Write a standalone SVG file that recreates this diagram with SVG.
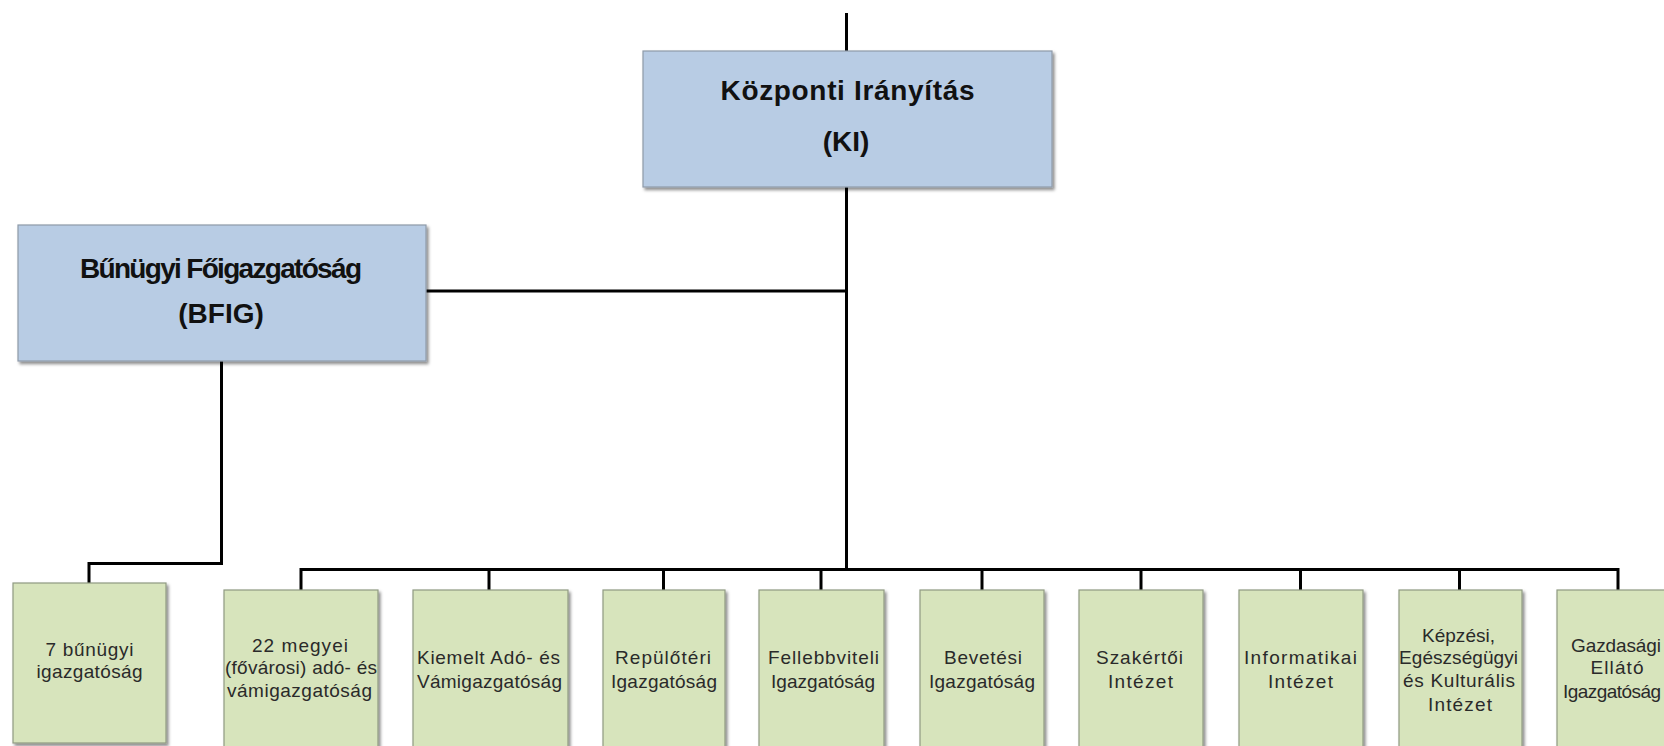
<svg xmlns="http://www.w3.org/2000/svg" width="1664" height="746" viewBox="0 0 1664 746">
  <style>
    .lead { fill: #b8cce4; stroke: #8e9aa8; stroke-width: 1.2; filter: url(#shadow); }
    .unit { fill: #d7e4bc; stroke: #8f9a82; stroke-width: 1.2; filter: url(#shadow); }
    .head { font-family: "Liberation Sans", Arial, sans-serif; font-weight: bold; font-size: 28px; fill: #111; text-anchor: middle; }
    .lbl { font-family: "Liberation Sans", Arial, sans-serif; font-size: 19px; fill: #2a2a2a; text-anchor: middle; }
    .wire { fill: none; stroke: #000; stroke-width: 3; stroke-linejoin: miter; }
  </style>
  <defs>
    <filter id="shadow" x="-10%" y="-10%" width="130%" height="130%">
      <feDropShadow dx="2" dy="2.5" stdDeviation="1.5" flood-color="#000" flood-opacity="0.45"/>
    </filter>
  </defs>
  <rect width="1664" height="746" fill="#fff"/>

  <!-- connectors -->
  <g id="connectors">
    <line class="wire" x1="846.5" y1="13" x2="846.5" y2="51" stroke-width="2.5"/>
    <line class="wire" x1="846.5" y1="187" x2="846.5" y2="571" stroke-width="4"/>
    <line class="wire" x1="426" y1="291" x2="846.5" y2="291"/>
    <polyline class="wire" points="221.5,361 221.5,563.5 89,563.5 89,583"/>
    <polyline class="wire" points="301,590 301,569.5 1618,569.5 1618,590"/>
    <line class="wire" x1="489" y1="569.5" x2="489" y2="590"/>
    <line class="wire" x1="663.5" y1="569.5" x2="663.5" y2="590"/>
    <line class="wire" x1="821" y1="569.5" x2="821" y2="590"/>
    <line class="wire" x1="982" y1="569.5" x2="982" y2="590"/>
    <line class="wire" x1="1141" y1="569.5" x2="1141" y2="590"/>
    <line class="wire" x1="1300.5" y1="569.5" x2="1300.5" y2="590"/>
    <line class="wire" x1="1459.5" y1="569.5" x2="1459.5" y2="590"/>
  </g>

  <g id="ki">
    <rect class="lead" x="643" y="51" width="409" height="136"/>
    <text class="head" x="847.5" y="100" textLength="254">Központi Irányítás</text>
    <text class="head" x="846" y="151">(KI)</text>
  </g>

  <g id="bfig">
    <rect class="lead" x="18" y="225" width="408" height="136"/>
    <text class="head" x="221" y="278" textLength="282">Bűnügyi Főigazgatóság</text>
    <text class="head" x="221" y="323">(BFIG)</text>
  </g>

  <g id="bunugyi">
    <rect class="unit" x="13" y="583" width="153" height="160"/>
    <text class="lbl" x="89.5" y="656" textLength="88">7 bűnügyi</text>
    <text class="lbl" x="89.5" y="678" textLength="106">igazgatóság</text>
  </g>

  <g id="megyei">
    <rect class="unit" x="224" y="590" width="154" height="170"/>
    <text class="lbl" x="300" y="652" textLength="96">22 megyei</text>
    <text class="lbl" x="301" y="674" textLength="152">(fővárosi) adó- és</text>
    <text class="lbl" x="299.5" y="697" textLength="145">vámigazgatóság</text>
  </g>

  <g id="kiemelt">
    <rect class="unit" x="413" y="590" width="155" height="170"/>
    <text class="lbl" x="488.5" y="664" textLength="143">Kiemelt Adó- és</text>
    <text class="lbl" x="489.5" y="688" textLength="145">Vámigazgatóság</text>
  </g>

  <g id="repuloteri">
    <rect class="unit" x="603" y="590" width="122" height="170"/>
    <text class="lbl" x="663" y="664" textLength="96">Repülőtéri</text>
    <text class="lbl" x="664" y="688" textLength="106">Igazgatóság</text>
  </g>

  <g id="fellebbviteli">
    <rect class="unit" x="759" y="590" width="125" height="170"/>
    <text class="lbl" x="823.5" y="664" textLength="111">Fellebbviteli</text>
    <text class="lbl" x="823" y="688" textLength="104">Igazgatóság</text>
  </g>

  <g id="bevetesi">
    <rect class="unit" x="920" y="590" width="124" height="170"/>
    <text class="lbl" x="983" y="664" textLength="78">Bevetési</text>
    <text class="lbl" x="982" y="688" textLength="106">Igazgatóság</text>
  </g>

  <g id="szakertoi">
    <rect class="unit" x="1079" y="590" width="124" height="170"/>
    <text class="lbl" x="1139.5" y="664" textLength="87">Szakértői</text>
    <text class="lbl" x="1140.5" y="688" textLength="65">Intézet</text>
  </g>

  <g id="informatikai">
    <rect class="unit" x="1239" y="590" width="124" height="170"/>
    <text class="lbl" x="1300.5" y="664" textLength="113">Informatikai</text>
    <text class="lbl" x="1300.5" y="688" textLength="65">Intézet</text>
  </g>

  <g id="kepzesi">
    <rect class="unit" x="1399" y="590" width="123" height="170"/>
    <text class="lbl" x="1458.5" y="642" textLength="73">Képzési,</text>
    <text class="lbl" x="1458.5" y="664" textLength="119">Egészségügyi</text>
    <text class="lbl" x="1459" y="687" textLength="112">és Kulturális</text>
    <text class="lbl" x="1460" y="711" textLength="64">Intézet</text>
  </g>

  <!-- rightmost unit runs past the canvas edge; its labels are kept inside -->
  <g id="gazdasagi">
    <rect class="unit" x="1557" y="590" width="123" height="170"/>
    <text class="lbl" x="1616" y="652" textLength="90">Gazdasági</text>
    <text class="lbl" x="1617" y="674" textLength="53">Ellátó</text>
    <text class="lbl" x="1612" y="698" textLength="98">Igazgatóság</text>
  </g>
</svg>
